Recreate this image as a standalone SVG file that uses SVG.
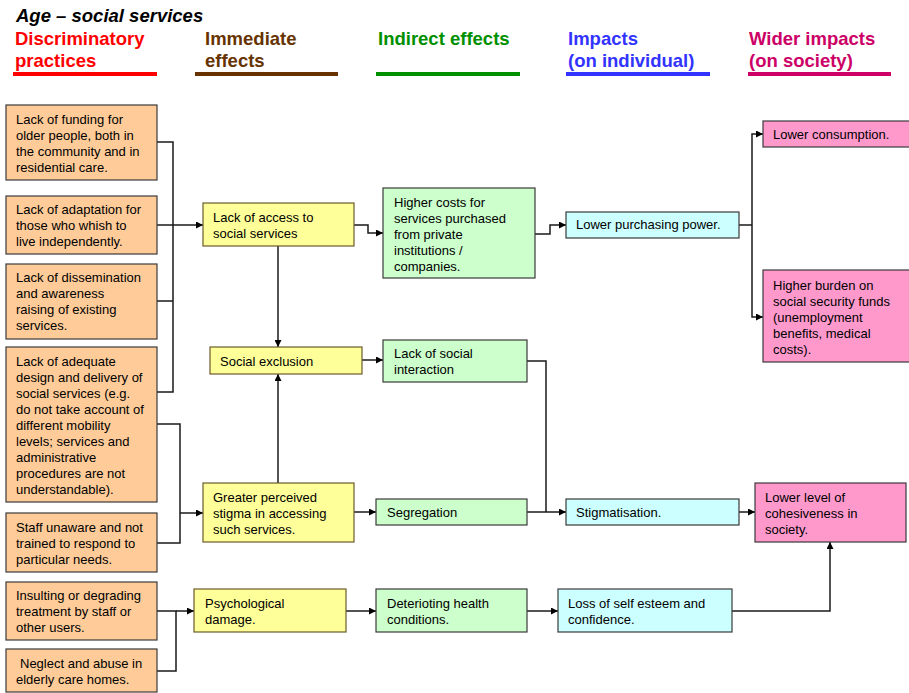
<svg xmlns="http://www.w3.org/2000/svg" width="909" height="693" viewBox="0 0 909 693">
  <style>
    text { font-family: "Liberation Sans", Arial, sans-serif; }
    .t { font-size: 13px; fill: #000; }
    .h { font-size: 18.5px; font-weight: bold; }
    .box { stroke: #3a3a3a; stroke-width: 1.2; }
    .cause { fill: #ffcc99; }
    .imm { fill: #ffff99; stroke: #6b5a2a; }
    .ind { fill: #ccffcc; }
    .ipi { fill: #ccffff; }
    .ips { fill: #ff99cc; }
    .wire { fill: none; stroke: #1a1a1a; stroke-width: 1.5; }
    .wire.a { marker-end: url(#arr); }
  </style>
  <defs>
    <marker id="arr" viewBox="0 0 10 10" refX="10" refY="5" markerWidth="7" markerHeight="7" markerUnits="userSpaceOnUse" orient="auto">
      <path d="M0,0 L10,5 L0,10 z" fill="#000"/>
    </marker>
  </defs>
  <rect width="909" height="693" fill="#fff"/>

  <!-- title and column headings -->
  <g id="heading">
    <text x="16" y="22" class="h" font-style="italic" fill="#000">Age – social services</text>
    <text x="15" y="45" class="h" fill="#ff0000">Discriminatory</text>
    <text x="15" y="67" class="h" fill="#ff0000">practices</text>
    <rect x="13" y="72" width="144" height="4" fill="#ff0000"/>
    <text x="205" y="45" class="h" fill="#663300">Immediate</text>
    <text x="205" y="67" class="h" fill="#663300">effects</text>
    <rect x="195" y="72" width="143" height="4" fill="#663300"/>
    <text x="378" y="45" class="h" fill="#009000">Indirect effects</text>
    <rect x="376" y="72" width="144" height="4" fill="#009000"/>
    <text x="568" y="45" class="h" fill="#3333ff">Impacts</text>
    <text x="568" y="67" class="h" fill="#3333ff">(on individual)</text>
    <rect x="566" y="72" width="144" height="4" fill="#3333ff"/>
    <text x="749" y="45" class="h" fill="#cc0066">Wider impacts</text>
    <text x="749" y="67" class="h" fill="#cc0066">(on society)</text>
    <rect x="748" y="72" width="143" height="4" fill="#cc0066"/>
  </g>

  <!-- connectors -->
  <g id="connectors">
    <path class="wire" d="M157,142 H173 V392 H157"/>
    <path class="wire" d="M157,225 H173"/>
    <path class="wire" d="M157,301 H173"/>
    <path class="wire a" d="M173,225 H203"/>
    <path class="wire" d="M157,424 H180 V543 H157"/>
    <path class="wire a" d="M180,513 H203"/>
    <path class="wire" d="M157,611 H176 V671 H157"/>
    <path class="wire a" d="M176,611 H194"/>
    <path class="wire a" d="M354,225 H368 V233 H383"/>
    <path class="wire a" d="M278,246 V347"/>
    <path class="wire a" d="M278,483 V374"/>
    <path class="wire a" d="M362,360 H383"/>
    <path class="wire a" d="M535,234 H550 V225 H566"/>
    <path class="wire" d="M739,225 H752"/>
    <path class="wire a" d="M752,225 V134 H763"/>
    <path class="wire a" d="M752,225 V317 H763"/>
    <path class="wire" d="M527,361 H546 V512"/>
    <path class="wire a" d="M354,512 H376"/>
    <path class="wire a" d="M527,512 H566"/>
    <path class="wire a" d="M739,512 H755"/>
    <path class="wire a" d="M346,611 H376"/>
    <path class="wire a" d="M527,611 H558"/>
    <path class="wire a" d="M732,611 H830 V542"/>
  </g>

  <!-- discriminatory practices -->
  <g id="funding">
    <rect class="box cause" x="6" y="105" width="151" height="75"/>
    <text class="t" x="16" y="124">Lack of funding for</text>
    <text class="t" x="16" y="140">older people, both in</text>
    <text class="t" x="16" y="156">the community and in</text>
    <text class="t" x="16" y="172">residential care.</text>
  </g>
  <g id="adaptation">
    <rect class="box cause" x="6" y="196" width="151" height="58"/>
    <text class="t" x="16" y="214">Lack of adaptation for</text>
    <text class="t" x="16" y="230">those who whish to</text>
    <text class="t" x="16" y="246">live independently.</text>
  </g>
  <g id="dissemination">
    <rect class="box cause" x="6" y="264" width="151" height="75"/>
    <text class="t" x="16" y="282">Lack of dissemination</text>
    <text class="t" x="16" y="298">and awareness</text>
    <text class="t" x="16" y="314">raising of existing</text>
    <text class="t" x="16" y="330">services.</text>
  </g>
  <g id="design">
    <rect class="box cause" x="6" y="347" width="151" height="155"/>
    <text class="t" x="16" y="366">Lack of adequate</text>
    <text class="t" x="16" y="382">design and delivery of</text>
    <text class="t" x="16" y="398">social services (e.g.</text>
    <text class="t" x="16" y="414">do not take account of</text>
    <text class="t" x="16" y="430">different mobility</text>
    <text class="t" x="16" y="446">levels; services and</text>
    <text class="t" x="16" y="462">administrative</text>
    <text class="t" x="16" y="478">procedures are not</text>
    <text class="t" x="16" y="494">understandable).</text>
  </g>
  <g id="staff">
    <rect class="box cause" x="6" y="513" width="151" height="59"/>
    <text class="t" x="16" y="532">Staff unaware and not</text>
    <text class="t" x="16" y="548">trained to respond to</text>
    <text class="t" x="16" y="564">particular needs.</text>
  </g>
  <g id="insulting">
    <rect class="box cause" x="6" y="582" width="151" height="58"/>
    <text class="t" x="16" y="600">Insulting or degrading</text>
    <text class="t" x="16" y="616">treatment by staff or</text>
    <text class="t" x="16" y="632">other users.</text>
  </g>
  <g id="neglect">
    <rect class="box cause" x="6" y="649" width="151" height="43"/>
    <text class="t" x="20" y="668">Neglect and abuse in</text>
    <text class="t" x="16" y="684">elderly care homes.</text>
  </g>

  <!-- immediate effects -->
  <g id="access">
    <rect class="box imm" x="203" y="203" width="151" height="43"/>
    <text class="t" x="213" y="222">Lack of access to</text>
    <text class="t" x="213" y="238">social services</text>
  </g>
  <g id="exclusion">
    <rect class="box imm" x="210" y="347" width="152" height="27"/>
    <text class="t" x="220" y="366">Social exclusion</text>
  </g>
  <g id="stigma">
    <rect class="box imm" x="203" y="483" width="151" height="59"/>
    <text class="t" x="213" y="502">Greater perceived</text>
    <text class="t" x="213" y="518">stigma in accessing</text>
    <text class="t" x="213" y="534">such services.</text>
  </g>
  <g id="psychological">
    <rect class="box imm" x="194" y="589" width="152" height="43"/>
    <text class="t" x="205" y="608">Psychological</text>
    <text class="t" x="205" y="624">damage.</text>
  </g>

  <!-- indirect effects -->
  <g id="costs">
    <rect class="box ind" x="383" y="188" width="152" height="90"/>
    <text class="t" x="394" y="207">Higher costs for</text>
    <text class="t" x="394" y="223">services purchased</text>
    <text class="t" x="394" y="239">from private</text>
    <text class="t" x="394" y="255">institutions /</text>
    <text class="t" x="394" y="271">companies.</text>
  </g>
  <g id="interaction">
    <rect class="box ind" x="383" y="340" width="144" height="42"/>
    <text class="t" x="394" y="358">Lack of social</text>
    <text class="t" x="394" y="374">interaction</text>
  </g>
  <g id="segregation">
    <rect class="box ind" x="376" y="499" width="151" height="26"/>
    <text class="t" x="387" y="517">Segregation</text>
  </g>
  <g id="health">
    <rect class="box ind" x="376" y="589" width="151" height="43"/>
    <text class="t" x="387" y="608">Deterioting health</text>
    <text class="t" x="387" y="624">conditions.</text>
  </g>

  <!-- impacts on individual -->
  <g id="purchasing">
    <rect class="box ipi" x="566" y="212" width="173" height="26"/>
    <text class="t" x="576" y="229">Lower purchasing power.</text>
  </g>
  <g id="stigmatisation">
    <rect class="box ipi" x="566" y="499" width="173" height="26"/>
    <text class="t" x="576" y="517">Stigmatisation.</text>
  </g>
  <g id="esteem">
    <rect class="box ipi" x="558" y="589" width="174" height="43"/>
    <text class="t" x="568" y="608">Loss of self esteem and</text>
    <text class="t" x="568" y="624">confidence.</text>
  </g>

  <!-- wider impacts on society -->
  <g id="consumption">
    <rect class="box ips" x="763" y="121" width="150" height="26"/>
    <text class="t" x="773" y="139">Lower consumption.</text>
  </g>
  <g id="burden">
    <rect class="box ips" x="763" y="270" width="150" height="92"/>
    <text class="t" x="773" y="290">Higher burden on</text>
    <text class="t" x="773" y="306">social security funds</text>
    <text class="t" x="773" y="322">(unemployment</text>
    <text class="t" x="773" y="338">benefits, medical</text>
    <text class="t" x="773" y="354">costs).</text>
  </g>
  <g id="cohesiveness">
    <rect class="box ips" x="755" y="483" width="151" height="59"/>
    <text class="t" x="765" y="502">Lower level of</text>
    <text class="t" x="765" y="518">cohesiveness in</text>
    <text class="t" x="765" y="534">society.</text>
  </g>
</svg>
